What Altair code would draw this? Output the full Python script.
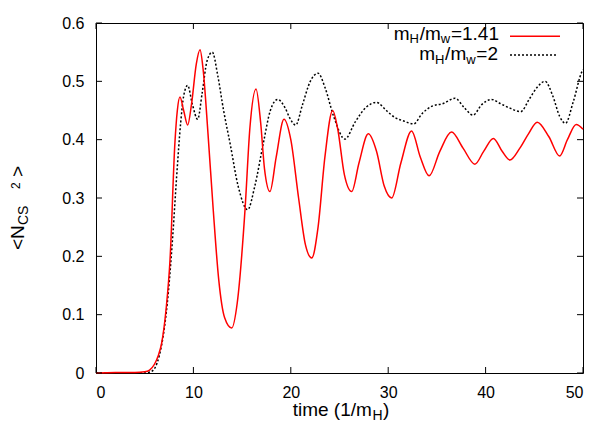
import altair as alt
import pandas as pd

# ---- data ----
t_red = [0, 2, 4, 5, 5.5, 6, 6.4, 6.74, 7.2, 7.6, 8.1, 8.35, 8.62, 9.0, 9.41, 9.8, 10.3, 10.68,
         11.0, 11.5, 12.04, 12.6, 13.2, 13.93, 14.5, 15.3, 15.8, 16.43, 16.9, 17.3, 17.86, 18.5,
         19.3, 20.0, 20.8, 21.5, 22.15, 22.8, 23.5, 24.3, 24.8, 25.5, 26.25, 27.0, 27.96, 28.8,
         29.6, 30.36, 31.3, 32.4, 33.3, 34.2, 35.3, 36.5, 37.7, 38.9, 39.8, 40.8, 41.7, 42.5,
         43.5, 44.4, 45.3, 46.5, 47.6, 48.4, 49.3, 50]
n_red = [0, 0.001, 0.001, 0.002, 0.005, 0.015, 0.03, 0.051, 0.11, 0.194, 0.394, 0.45, 0.473, 0.45,
         0.425, 0.46, 0.53, 0.554, 0.52, 0.41, 0.279, 0.16, 0.095, 0.077, 0.12, 0.28, 0.42, 0.487,
         0.43, 0.35, 0.311, 0.37, 0.435, 0.40, 0.30, 0.22, 0.197, 0.25, 0.37, 0.45, 0.42, 0.34,
         0.311, 0.36, 0.41, 0.38, 0.32, 0.30, 0.36, 0.415, 0.37, 0.338, 0.38, 0.413, 0.385, 0.358,
         0.38, 0.402, 0.38, 0.365, 0.385, 0.41, 0.43, 0.405, 0.372, 0.40, 0.426, 0.418]

t_two = [0, 5, 5.6, 6.06, 6.5, 7.0, 7.42, 7.9, 8.28, 8.7, 9.0, 9.41, 9.9, 10.44, 10.9, 11.4, 11.94,
         12.5, 13.1, 13.76, 14.6, 15.57, 16.3, 17.18, 17.9, 18.65, 19.4, 19.9, 20.5, 21.2, 22.0,
         22.8, 23.5, 24.4, 25.56, 26.6, 27.7, 28.8, 29.8, 30.7, 31.6, 32.6, 33.5, 34.45, 35.65,
         36.86, 37.8, 38.7, 39.6, 40.6, 41.5, 42.5, 43.6, 44.5, 45.3, 46.1, 46.9, 47.6, 48.2,
         49.0, 49.9, 50.0]
n_two = [0, 0, 0.002, 0.009, 0.03, 0.075, 0.137, 0.24, 0.337, 0.43, 0.475, 0.493, 0.46, 0.435,
         0.48, 0.535, 0.55, 0.51, 0.45, 0.394, 0.32, 0.28, 0.32, 0.394, 0.45, 0.469, 0.455, 0.437,
         0.425, 0.46, 0.50, 0.514, 0.49, 0.44, 0.401, 0.43, 0.455, 0.464, 0.45, 0.438, 0.432,
         0.427, 0.445, 0.457, 0.462, 0.471, 0.455, 0.442, 0.46, 0.469, 0.462, 0.454, 0.448, 0.47,
         0.49, 0.50, 0.475, 0.44, 0.428, 0.465, 0.517, 0.52]

x_ticks = [0, 10, 20, 30, 40, 50]
y_ticks = [0, 0.1, 0.2, 0.3, 0.4, 0.5, 0.6]

# ---- layout ----
W, H = 487, 350
F = "Liberation Sans"
TL = 6

xs = alt.Scale(domain=[0, 50], nice=False, zero=False)
ys = alt.Scale(domain=[0, 0.6], nice=False, zero=False)
x_axis = alt.Axis(values=x_ticks, ticks=False, domain=False, grid=False, title=None,
                  labelFont=F, labelFontSize=16, labelColor="black", labelPadding=11,
                  format="d")
y_axis = alt.Axis(values=y_ticks, ticks=False, domain=False, grid=False, title=None,
                  labelFont=F, labelFontSize=16, labelColor="black", labelPadding=12,
                  labelExpr="datum.value == 0 ? '0' : format(datum.value, '.1f')")


def X():
    return alt.X("t:Q", scale=xs, axis=x_axis)


def Y():
    return alt.Y("n:Q", scale=ys, axis=y_axis)


df_red = pd.DataFrame({"t": t_red, "n": n_red})
df_two = pd.DataFrame({"t": t_two, "n": n_two})
df_xt = pd.DataFrame({"t": x_ticks})
df_yt = pd.DataFrame({"n": y_ticks})
one = pd.DataFrame({"a": [0]})

red = alt.Chart(df_red).mark_line(color="#ff0000", strokeWidth=1.5,
                                  interpolate="monotone").encode(x=X(), y=Y())
two = alt.Chart(df_two).mark_line(color="black", strokeWidth=1.5, strokeDash=[2, 2],
                                  interpolate="monotone").encode(x=X(), y=Y())

tick_style = dict(color="black", strokeWidth=1)
xb = alt.Chart(df_xt).mark_rule(**tick_style).encode(x=X(), y=alt.value(H), y2=alt.value(H - TL))
xt = alt.Chart(df_xt).mark_rule(**tick_style).encode(x=X(), y=alt.value(0), y2=alt.value(TL))
yl = alt.Chart(df_yt).mark_rule(**tick_style).encode(y=Y(), x=alt.value(0), x2=alt.value(TL))
yr = alt.Chart(df_yt).mark_rule(**tick_style).encode(y=Y(), x=alt.value(W), x2=alt.value(W - TL))


def txt(s, x, y, size, angle=0):
    return alt.Chart(one).mark_text(text=s, font=F, fontSize=size, align="left",
                                    baseline="alphabetic", angle=angle, color="black").encode(
        x=alt.value(x), y=alt.value(y))


texts = [
    # x title: time (1/m_H)
    txt("time (1/m", 196.7, 393, 19),
    txt("H", 276.5, 396.5, 14),
    txt(")", 287, 393, 19),
    # y title: <N_CS^2>
    txt("<N", -72, 227, 19, 270),
    txt("CS", -68, 202, 14, 270),
    txt("2", -76, 166, 12, 270),
    txt(">", -72, 154, 19, 270),
    # legend row 1
    txt("m", 297.8, 17, 19),
    txt("H", 313.6, 20, 13),
    txt("/m", 323.7, 17, 19),
    txt("w", 344.8, 20, 13),
    txt("=1.41", 354.9, 17, 19),
    # legend row 2
    txt("m", 323.2, 37, 19),
    txt("H", 339, 40.5, 13),
    txt("/m", 349.1, 37, 19),
    txt("w", 370.2, 40.5, 13),
    txt("=2", 380.3, 37, 19),
]

leg_red = alt.Chart(one).mark_rule(color="#ff0000", strokeWidth=1.5).encode(
    x=alt.value(414), x2=alt.value(464), y=alt.value(13.3))
leg_two = alt.Chart(one).mark_rule(color="black", strokeWidth=1.5, strokeDash=[2, 2]).encode(
    x=alt.value(414), x2=alt.value(462), y=alt.value(32))

chart = alt.layer(two, red, xb, xt, yl, yr, leg_red, leg_two, *texts).properties(
    width=W, height=H,
    autosize=alt.AutoSizeParams(type="none"),
    padding={"left": 88, "top": 15, "right": 24, "bottom": 49},
).configure_view(stroke="black", strokeWidth=1)

chart.save("out.html", embed_options={"renderer": "svg", "actions": False})
